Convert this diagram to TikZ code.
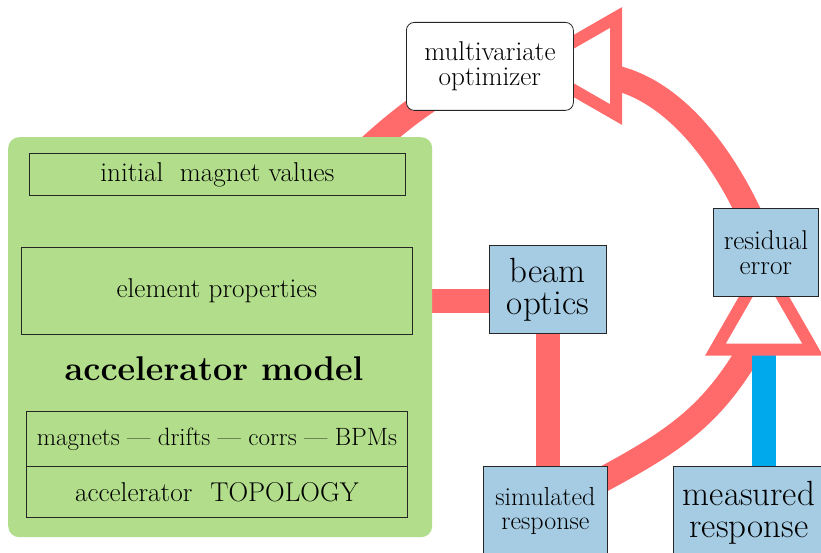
\documentclass[tikz,border=0pt]{standalone}
\usetikzlibrary{calc}
\definecolor{redc}{RGB}{255,107,107}
\definecolor{greenc}{RGB}{178,222,139}
\definecolor{lblue}{RGB}{166,204,228}
\definecolor{bblue}{RGB}{0,169,236}
\pgfdeclarelayer{background}
\pgfsetlayers{background,main}
\begin{document}
\begin{tikzpicture}[x=1pt,y=-1pt,
  plain/.style={draw=black!85, line width=0.8pt, inner sep=0pt, align=center, anchor=north west,
    font=\fontsize{27.2}{25}\selectfont},
  bluebox/.style={plain, fill=lblue},
  bigtext/.style={font=\fontsize{35}{32}\selectfont},
  redline/.style={draw=redc, line width=24pt},
  redarc/.style={draw=redc, line width=25pt},
  bluebar/.style={draw=bblue, line width=24pt},
  openhead/.style={draw=redc, fill=white, line width=12pt, line join=miter, miter limit=10},
  greenbox/.style={fill=greenc, rounded corners=11pt, inner sep=0pt, anchor=north west}]
\useasboundingbox (0,0) rectangle (821,553);

% accelerator model block
\node[greenbox, minimum width=424pt, minimum height=400pt] (model) at (8,137) {};
\node[plain, minimum width=376pt, minimum height=42pt] (init) at (29,153) {initial\ \ magnet values};
\node[plain, minimum width=391pt, minimum height=87pt] (elem) at (21,247) {element properties};
\node[anchor=base, inner sep=0pt, font=\fontsize{34.3}{36}\selectfont\bfseries] (title) at (214,380) {accelerator model};
\node[plain, minimum width=381pt, minimum height=55pt, font=\fontsize{25}{26}\selectfont] (mag) at (26,411) {magnets --- drifts --- corrs --- BPMs};
\node[plain, minimum width=381pt, minimum height=51pt] (topo) at (26,466) {accelerator\hspace{18pt}TOPOLOGY};

% other nodes
\node[plain, fill=white, rounded corners=8pt, minimum width=167pt, minimum height=88pt] (opt) at (406,22) {multivariate\\optimizer};
\node[bluebox, bigtext, minimum width=117pt, minimum height=88pt] (optics) at (489,245) {beam\\optics};
\node[bluebox, minimum width=105pt, minimum height=88pt] (resid) at (713,208) {residual\\error};
\node[bluebox, minimum width=124pt, minimum height=90pt, font=\fontsize{26}{24}\selectfont] (sim) at (483,466) {simulated\\response};
\node[bluebox, bigtext, minimum width=151pt, minimum height=92pt] (meas) at (673,466) {measured\\response};

% helper coordinates
\coordinate (la) at (330,185);
\coordinate (ta) at (616,78);
\coordinate (sa) at (600,481);
\coordinate (rb) at (750,350);
\coordinate (bb) at (764,350);
\coordinate (hb) at ($(optics.west)+(0,12)$);

\begin{pgfonlayer}{background}
  \fill[white] (0,0) rectangle (821,553);
  \draw[redarc] (la) .. controls (380,136) and (420,98) .. (opt.center);
  \draw[redarc] (ta) .. controls (665,90) and (722,140) .. (resid.center);
  \draw[redarc] (sa) .. controls (672,442) and (710,418) .. (rb);
  \draw[redline] (model.east |- hb) -- (hb);
  \draw[redline] (optics.center) -- (optics.center |- sim.center);
  \draw[bluebar] (bb |- meas.north) -- (bb);
  \draw[openhead] (531.5,66) -- (616,17.5) -- (616,114.5) -- cycle;
  \draw[openhead] (764,265) -- (715.5,349.5) -- (812.5,349.5) -- cycle;
\end{pgfonlayer}
\end{tikzpicture}
\end{document}
